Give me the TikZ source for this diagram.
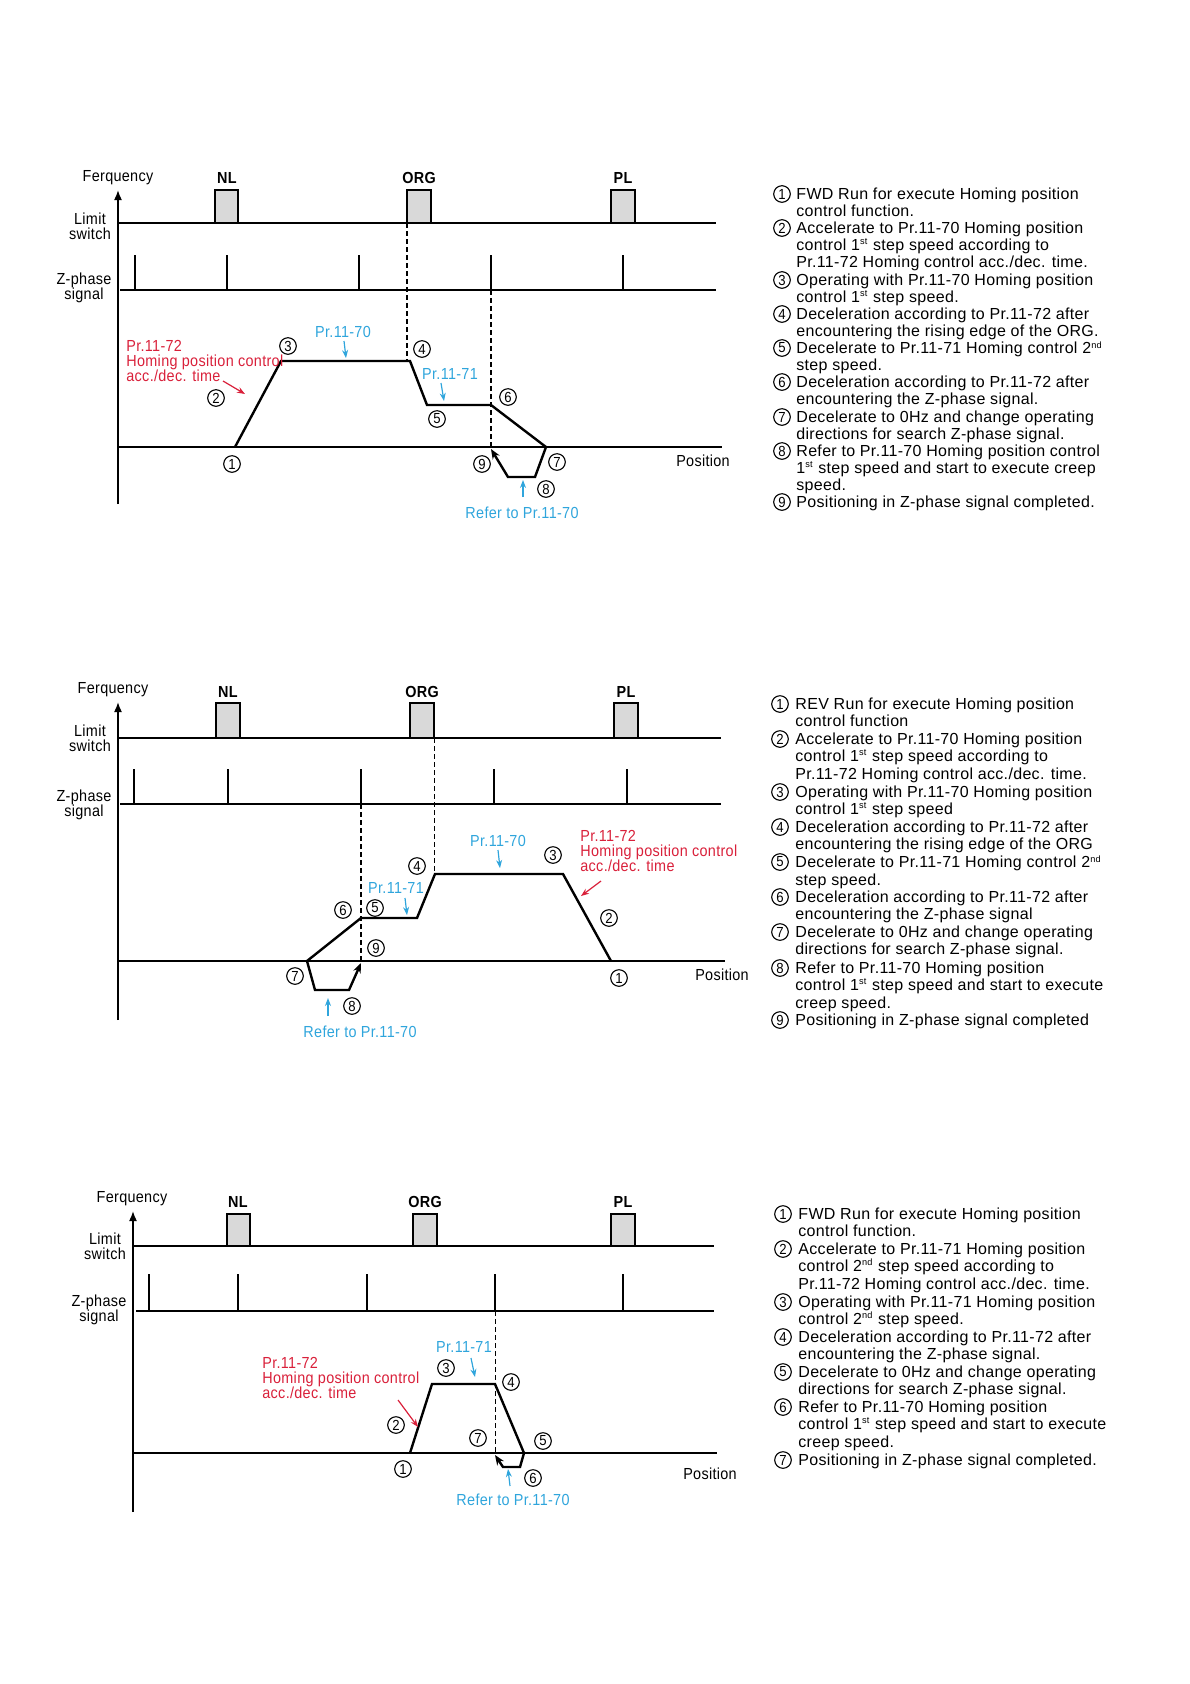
\documentclass[tikz,border=0pt]{standalone}
\usepackage{fontspec}
\setmainfont{Liberation Sans}
\newfontfamily\listfont[LetterSpace=2]{Liberation Sans}
\newfontfamily\diafont[FakeStretch=0.9,LetterSpace=2]{Liberation Sans}
\usetikzlibrary{arrows.meta,positioning}
\definecolor{prred}{HTML}{D9203A}
\definecolor{prblue}{HTML}{2FA5DC}
\definecolor{swgray}{HTML}{D9D9D9}
\newcommand{\sups}[1]{\textsuperscript{\fontsize{4.6bp}{4.6bp}\selectfont #1}}
\tikzset{
  lbl/.style={font=\diafont\fontsize{8bp}{7.5bp}\selectfont,inner sep=0pt,align=center},
  swname/.style={font=\diafont\bfseries\fontsize{8bp}{8bp}\selectfont,inner sep=0pt},
  redtxt/.style={lbl,align=left,anchor=west,text=prred},
  bluetxt/.style={lbl,text=prblue},
  num/.style={circle,draw,line width=0.55bp,minimum size=8.3bp,inner sep=0pt,font=\diafont\fontsize{7.3bp}{7.3bp}\selectfont},
  entry/.style={font=\listfont\fontsize{8bp}{#1}\selectfont,align=left,inner sep=0pt,anchor=north west},
  swbox/.style={draw,line width=1.1bp,fill=swgray},
  sig/.style={line width=0.9bp},
  pulse/.style={line width=1bp},
  yax/.style={line width=0.8bp,-{Latex[length=5bp,width=4bp]}},
  curve/.style={line width=1.2bp,line join=miter,-{Stealth[length=5bp,width=4bp]}},
  dsh/.style={line width=0.8bp,dash pattern=on 2.5bp off 1.5bp},
  tdsh/.style={line width=0.5bp,dash pattern=on 2.5bp off 1.5bp},
  rar/.style={draw=prred,line width=0.6bp,-{Stealth[length=4bp,width=3bp]}},
  bar/.style={draw=prblue,line width=0.6bp,-{Stealth[length=4bp,width=3bp]}},
}

\begin{document}
\begin{tikzpicture}[x=0.5bp,y=-0.5bp]
\useasboundingbox (0,0) rectangle (1190,1684);

%% FWD run, Z-phase after ORG
\draw[yax] (118,504) -- (118,190);
\node[lbl] (fq1) at (118,178) {Ferquency};
\node[lbl] (ls1) at (90,226) {Limit\\switch};
\node[lbl] (zp1) at (84,288) {Z-phase\\signal};
\node[lbl] (ps1) at (703,461) {Position};
\node[swname] (nl1) at (227,178) {NL};
\node[swname] (org1) at (419,178) {ORG};
\node[swname] (pl1) at (623,178) {PL};
\draw[swbox] (215,190) rectangle (238,223);
\draw[swbox] (407,190) rectangle (431,223);
\draw[swbox] (611,190) rectangle (635,223);
\draw[sig] (118,223) -- (716,223);
\draw[sig] (120,290) -- (716,290);
\foreach \x in {135,227,359,491,623} \draw[pulse] (\x,290) -- (\x,255);
\draw[sig] (118,447) -- (722,447);
\draw[dsh] (407,223) -- (407,361);
\draw[dsh] (491,290) -- (491,447);
\draw[curve] (235,447) -- (281,361) -- (410,361) -- (427,405) -- (491,405)
  -- (546,447) -- (535,477) -- (508,477) -- (491,449);
\node[num] (a1) at (232,464) {1};
\node[num] (a2) at (216,398) {2};
\node[num] (a3) at (288,346) {3};
\node[num] (a4) at (422,349) {4};
\node[num] (a5) at (437,419) {5};
\node[num] (a6) at (508,397) {6};
\node[num] (a7) at (557,462) {7};
\node[num] (a8) at (546,489) {8};
\node[num] (a9) at (482,464) {9};
\node[redtxt] (rt1) at (126,361) {Pr.11-72\\Homing position control\\acc./dec. time};
\coordinate (r1s) at (223,381);
\coordinate (r1e) at (245,394);
\draw[rar] (r1s) -- (r1e);
\node[bluetxt] (q1) at (343,332) {Pr.11-70};
\coordinate (q1s) at (344,341);
\coordinate (q1e) at (346,358);
\draw[bar] (q1s) -- (q1e);
\node[bluetxt] (q2) at (450,374) {Pr.11-71};
\coordinate (q2s) at (441,383);
\coordinate (q2e) at (444,401);
\draw[bar] (q2s) -- (q2e);
\node[bluetxt] (rf1) at (522,513) {Refer to Pr.11-70};
\coordinate (f1s) at (523,497);
\coordinate (f1e) at (523,480);
\draw[bar] (f1s) -- (f1e);

\node[num] (la1) at (782,194) {1};
\node[entry=8.56bp] (ta1) at (796,187) {FWD Run for execute Homing position\\control function.};
\node[num] (la2) at (782,228) {2};
\node[entry=8.56bp] (ta2) at (796,221) {Accelerate to Pr.11-70 Homing position\\control 1\sups{st} step speed according to\\Pr.11-72 Homing control acc./dec. time.};
\node[num] (la3) at (782,280) {3};
\node[entry=8.56bp] (ta3) at (796,273) {Operating with Pr.11-70 Homing position\\control 1\sups{st} step speed.};
\node[num] (la4) at (782,314) {4};
\node[entry=8.56bp] (ta4) at (796,307) {Deceleration according to Pr.11-72 after\\encountering the rising edge of the ORG.};
\node[num] (la5) at (782,348) {5};
\node[entry=8.56bp] (ta5) at (796,341) {Decelerate to Pr.11-71 Homing control 2\sups{nd}\\step speed.};
\node[num] (la6) at (782,382) {6};
\node[entry=8.56bp] (ta6) at (796,375) {Deceleration according to Pr.11-72 after\\encountering the Z-phase signal.};
\node[num] (la7) at (782,417) {7};
\node[entry=8.56bp] (ta7) at (796,410) {Decelerate to 0Hz and change operating\\directions for search Z-phase signal.};
\node[num] (la8) at (782,451) {8};
\node[entry=8.56bp] (ta8) at (796,444) {Refer to Pr.11-70 Homing position control\\1\sups{st} step speed and start to execute creep\\speed.};
\node[num] (la9) at (782,502) {9};
\node[entry=8.56bp] (ta9) at (796,495) {Positioning in Z-phase signal completed.};

%% REV run, Z-phase before ORG
\draw[yax] (118,1020) -- (118,702);
\node[lbl] (fq2) at (113,690) {Ferquency};
\node[lbl] (ls2) at (90,738) {Limit\\switch};
\node[lbl] (zp2) at (84,805) {Z-phase\\signal};
\node[lbl] (ps2) at (722,975) {Position};
\node[swname] (nl2) at (228,692) {NL};
\node[swname] (org2) at (422,692) {ORG};
\node[swname] (pl2) at (626,692) {PL};
\draw[swbox] (216,703) rectangle (240,738);
\draw[swbox] (410,703) rectangle (434,738);
\draw[swbox] (614,703) rectangle (638,738);
\draw[sig,line width=0.6bp] (118,738) -- (721,738);
\draw[sig] (120,804) -- (721,804);
\foreach \x in {134,228,361,494,627} \draw[pulse] (\x,804) -- (\x,769);
\draw[sig,line width=0.6bp] (118,961) -- (725,961);
\draw[tdsh] (434,738) -- (434,874);
\draw[dsh] (361,804) -- (361,961);
\draw[curve] (611,961) -- (563,874) -- (435,874) -- (417,918) -- (361,918)
  -- (307,961) -- (315,990) -- (349,990) -- (361,963);
\node[num] (b1) at (619,978) {1};
\node[num] (b2) at (609,918) {2};
\node[num] (b3) at (553,855) {3};
\node[num] (b4) at (417,866) {4};
\node[num] (b5) at (375,908) {5};
\node[num] (b6) at (343,910) {6};
\node[num] (b7) at (295,976) {7};
\node[num] (b8) at (352,1006) {8};
\node[num] (b9) at (376,948) {9};
\node[redtxt] (rt2) at (580,851) {Pr.11-72\\Homing position control\\acc./dec. time};
\coordinate (r2s) at (601,881);
\coordinate (r2e) at (581,896);
\draw[rar] (r2s) -- (r2e);
\node[bluetxt] (q3) at (498,841) {Pr.11-70};
\coordinate (q3s) at (498,850);
\coordinate (q3e) at (500,868);
\draw[bar] (q3s) -- (q3e);
\node[bluetxt] (q4) at (396,888) {Pr.11-71};
\coordinate (q4s) at (405,898);
\coordinate (q4e) at (407,915);
\draw[bar] (q4s) -- (q4e);
\node[bluetxt] (rf2) at (360,1032) {Refer to Pr.11-70};
\coordinate (f2s) at (328,1016);
\coordinate (f2e) at (328,998);
\draw[bar] (f2s) -- (f2e);

\node[num] (lb1) at (780,704) {1};
\node[entry=8.8bp] (tb1) at (795,697) {REV Run for execute Homing position\\control function};
\node[num] (lb2) at (780,739) {2};
\node[entry=8.8bp] (tb2) at (795,732) {Accelerate to Pr.11-70 Homing position\\control 1\sups{st} step speed according to\\Pr.11-72 Homing control acc./dec. time.};
\node[num] (lb3) at (780,792) {3};
\node[entry=8.8bp] (tb3) at (795,785) {Operating with Pr.11-70 Homing position\\control 1\sups{st} step speed};
\node[num] (lb4) at (780,827) {4};
\node[entry=8.8bp] (tb4) at (795,820) {Deceleration according to Pr.11-72 after\\encountering the rising edge of the ORG};
\node[num] (lb5) at (780,862) {5};
\node[entry=8.8bp] (tb5) at (795,855) {Decelerate to Pr.11-71 Homing control 2\sups{nd}\\step speed.};
\node[num] (lb6) at (780,897) {6};
\node[entry=8.8bp] (tb6) at (795,890) {Deceleration according to Pr.11-72 after\\encountering the Z-phase signal};
\node[num] (lb7) at (780,932) {7};
\node[entry=8.8bp] (tb7) at (795,925) {Decelerate to 0Hz and change operating\\directions for search Z-phase signal.};
\node[num] (lb8) at (780,968) {8};
\node[entry=8.8bp] (tb8) at (795,961) {Refer to Pr.11-70 Homing position\\control 1\sups{st} step speed and start to execute\\creep speed.};
\node[num] (lb9) at (780,1020) {9};
\node[entry=8.8bp] (tb9) at (795,1013) {Positioning in Z-phase signal completed};

%% FWD run, Z-phase only
\draw[yax] (133,1512) -- (133,1211);
\node[lbl] (fq3) at (132,1199) {Ferquency};
\node[lbl] (ls3) at (105,1246) {Limit\\switch};
\node[lbl] (zp3) at (99,1310) {Z-phase\\signal};
\node[lbl] (ps3) at (710,1474) {Position};
\node[swname] (nl3) at (238,1202) {NL};
\node[swname] (org3) at (425,1202) {ORG};
\node[swname] (pl3) at (623,1202) {PL};
\draw[swbox] (227,1214) rectangle (250,1246);
\draw[swbox] (413,1214) rectangle (437,1246);
\draw[swbox] (611,1214) rectangle (635,1246);
\draw[sig,line width=0.6bp] (133,1246) -- (714,1246);
\draw[sig,line width=0.6bp] (136,1311) -- (714,1311);
\foreach \x in {149,238,367,495,623} \draw[pulse] (\x,1311) -- (\x,1274);
\draw[sig,line width=1.2bp] (133,1453) -- (717,1453);
\draw[tdsh] (495,1311) -- (495,1453);
\draw[curve] (410,1453) -- (432,1384) -- (495,1384) -- (524,1453)
  -- (520,1467) -- (503,1467) -- (495,1455);
\node[num] (c1) at (403,1469) {1};
\node[num] (c2) at (396,1425) {2};
\node[num] (c3) at (446,1368) {3};
\node[num] (c4) at (511,1382) {4};
\node[num] (c5) at (543,1441) {5};
\node[num] (c6) at (533,1478) {6};
\node[num] (c7) at (478,1438) {7};
\node[redtxt] (rt3) at (262,1378) {Pr.11-72\\Homing position control\\acc./dec. time};
\coordinate (r3s) at (398,1400);
\coordinate (r3e) at (418,1427);
\draw[rar] (r3s) -- (r3e);
\node[bluetxt] (q5) at (464,1347) {Pr.11-71};
\coordinate (q5s) at (471,1358);
\coordinate (q5e) at (475,1377);
\draw[bar] (q5s) -- (q5e);
\node[bluetxt] (rf3) at (513,1500) {Refer to Pr.11-70};
\coordinate (f3s) at (510,1486);
\coordinate (f3e) at (508,1469);
\draw[bar] (f3s) -- (f3e);

\node[num] (lc1) at (783,1214) {1};
\node[entry=8.79bp] (tc1) at (798,1207) {FWD Run for execute Homing position\\control function.};
\node[num] (lc2) at (783,1249) {2};
\node[entry=8.79bp] (tc2) at (798,1242) {Accelerate to Pr.11-71 Homing position\\control 2\sups{nd} step speed according to\\Pr.11-72 Homing control acc./dec. time.};
\node[num] (lc3) at (783,1302) {3};
\node[entry=8.79bp] (tc3) at (798,1295) {Operating with Pr.11-71 Homing position\\control 2\sups{nd} step speed.};
\node[num] (lc4) at (783,1337) {4};
\node[entry=8.79bp] (tc4) at (798,1330) {Deceleration according to Pr.11-72 after\\encountering the Z-phase signal.};
\node[num] (lc5) at (783,1372) {5};
\node[entry=8.79bp] (tc5) at (798,1365) {Decelerate to 0Hz and change operating\\directions for search Z-phase signal.};
\node[num] (lc6) at (783,1407) {6};
\node[entry=8.79bp] (tc6) at (798,1400) {Refer to Pr.11-70 Homing position\\control 1\sups{st} step speed and start to execute\\creep speed.};
\node[num] (lc7) at (783,1460) {7};
\node[entry=8.79bp] (tc7) at (798,1453) {Positioning in Z-phase signal completed.};
\end{tikzpicture}
\end{document}
